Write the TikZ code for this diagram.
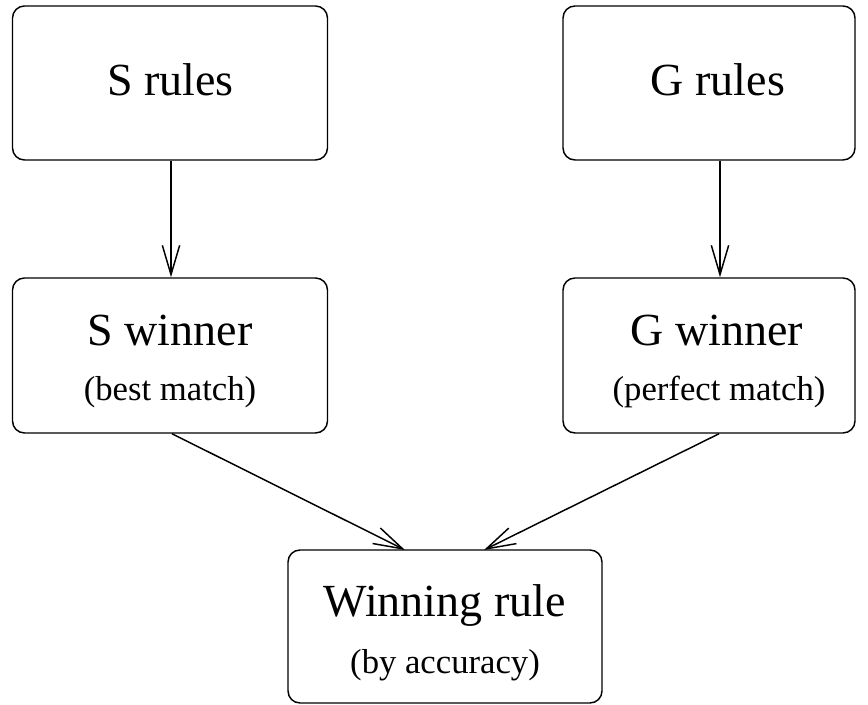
\documentclass[tikz,border=0pt]{standalone}
\usepackage{fontspec}
\setmainfont{Liberation Serif}
\usetikzlibrary{arrows.meta}
\begin{document}
\begin{tikzpicture}[x=0.75pt,y=-0.75pt,
  box/.style={draw, line width=1.1pt, rounded corners=9pt, inner sep=0pt},
  title/.style={font=\fontsize{34.5pt}{40pt}\selectfont, anchor=base, inner sep=0pt},
  sub/.style={font=\fontsize{26pt}{30pt}\selectfont, anchor=base, inner sep=0pt},
  conn/.style={line width=1.1pt, -{Straight Barb[length=22pt,width=13pt,line width=1.1pt]}}]
\useasboundingbox (0,0) rectangle (868,705);
% boxes
\node[box, minimum width=315*0.75pt, minimum height=154*0.75pt] (sr) at (170,83) {};
\node[box, minimum width=292*0.75pt, minimum height=154*0.75pt] (gr) at (709,83) {};
\node[box, minimum width=315*0.75pt, minimum height=155*0.75pt] (sw) at (170,355.5) {};
\node[box, minimum width=292*0.75pt, minimum height=155*0.75pt] (gw) at (709,355.5) {};
\node[box, minimum width=314*0.75pt, minimum height=153*0.75pt] (wr) at (445,626.5) {};
% texts
\node[title] (srt) at (170.5,96) {S rules};
\node[title] (grt) at (718,96) {G rules};
\node[title] (swt) at (170,346) {S winner};
\node[sub] (sws) at (170,401) {(best match)};
\node[title] (gwt) at (717,346) {G winner};
\node[sub] (gws) at (719,401) {(perfect match)};
\node[title] (wrt) at (444.5,617) {Winning rule};
\node[sub] (wrs) at (445,673) {(by accuracy)};
% connectors
\coordinate (wrl) at (405,550);
\coordinate (wrr) at (484,550);
\draw[conn] (sr.south -| 171,0) -- (sw.north -| 171,0);
\draw[conn] (gr.south -| 720,0) -- (gw.north -| 720,0);
\draw[conn] (sw.south -| 172,0) -- (wrl);
\draw[conn] (gw.south -| 719,0) -- (wrr);
\end{tikzpicture}
\end{document}
